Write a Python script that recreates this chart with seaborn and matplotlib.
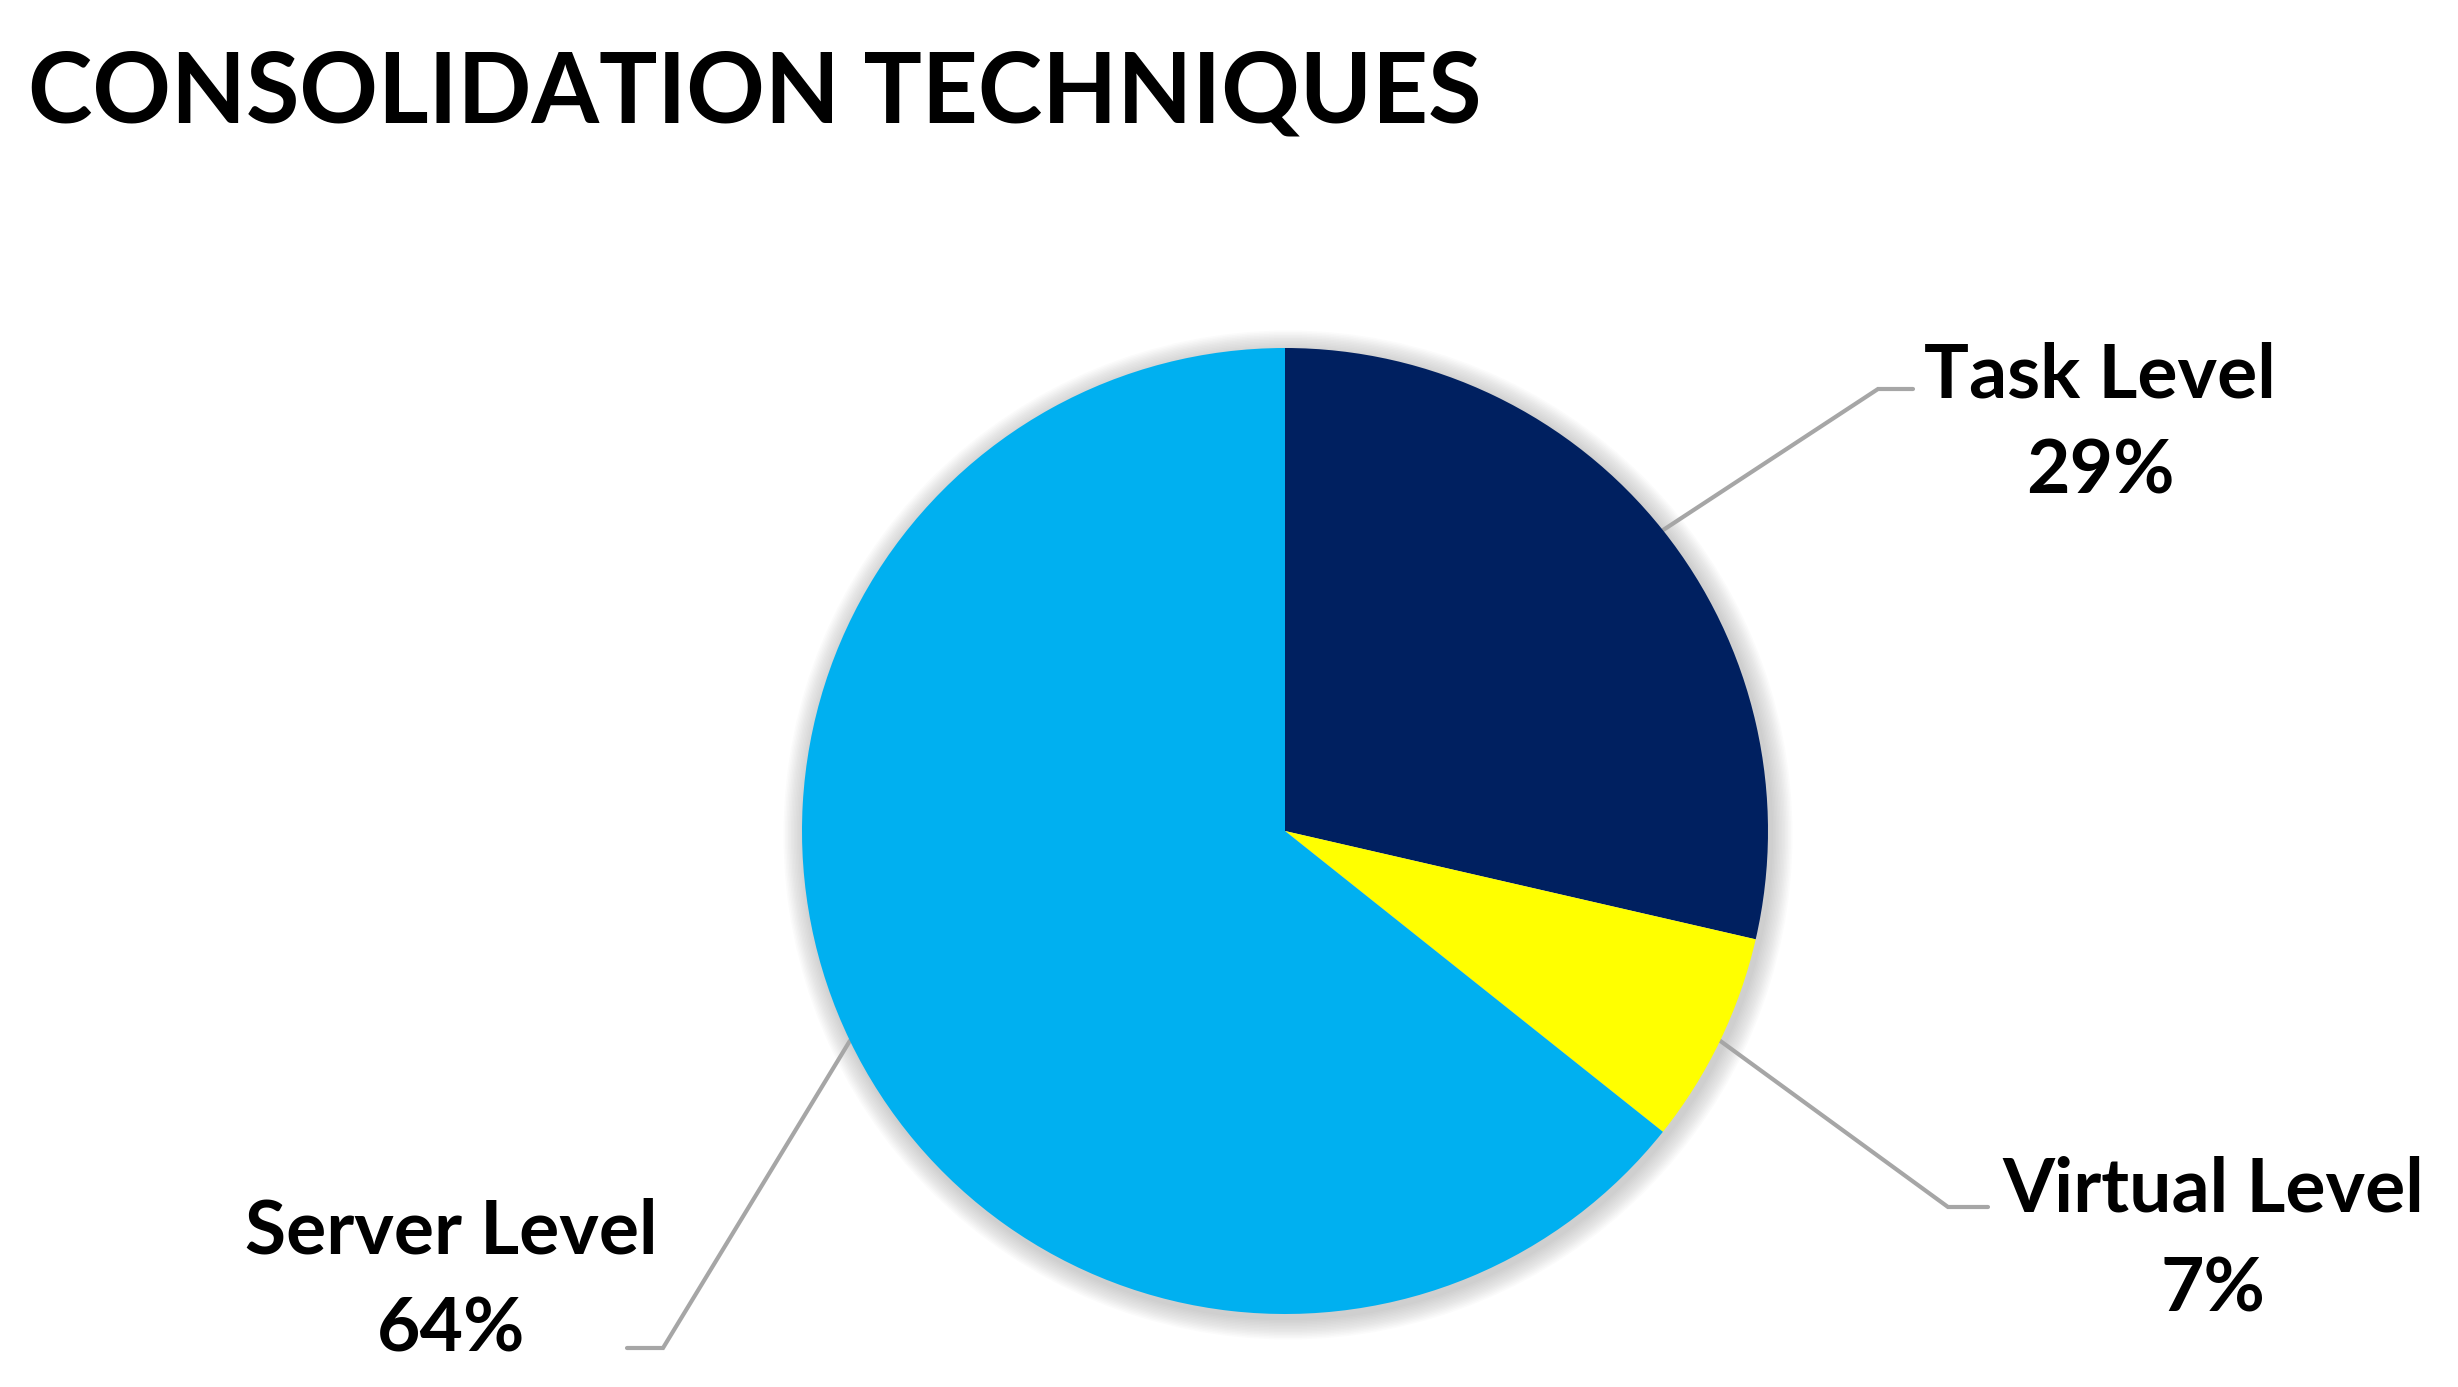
import numpy as np
import seaborn as sns
import matplotlib.pyplot as plt
from matplotlib.patches import Circle

# Data
categories = ['Task Level', 'Virtual Level', 'Server Level']
shares = [28.6, 7.1, 64.3]
pct_labels = ['29%', '7%', '64%']
colors = ['#002060', '#FFFF00', '#00B0F0']

sns.set_theme(style='white')
plt.rcParams['font.family'] = ['Lato', 'DejaVu Sans']

W, H = 2458, 1387
fig = plt.figure(figsize=(W / 100, H / 100), dpi=100)
ax = fig.add_axes([0, 0, 1, 1])

# pie geometry (pixel space, y up)
cx, cy, r = 1285, H - 831, 483

# soft shadow around the pie
for k in range(14):
    ax.add_patch(Circle((cx + 3, cy - 4), r + 2 + k * 1.5, color='#888888',
                        alpha=0.03, lw=0, zorder=0))

wedges, _ = ax.pie(shares, colors=colors, startangle=90, counterclock=False,
                   center=(cx, cy), radius=r, wedgeprops=dict(linewidth=0))
for w in wedges:
    w.set_zorder(2)

# label layout: elbow point, line end, text x, name baseline, pct baseline (pixels from top)
layout = [
    dict(elbow=(1878, 389), end=(1913, 389), tx=2100, yname=397, ypct=494),
    dict(elbow=(1948, 1207), end=(1988, 1207), tx=2213, yname=1212, ypct=1311),
    dict(elbow=(663, 1348), end=(627, 1348), tx=451, yname=1254, ypct=1351),
]

for w, name, pct, lay in zip(wedges, categories, pct_labels, layout):
    mid = np.deg2rad((w.theta1 + w.theta2) / 2)
    sx, sy = cx + r * np.cos(mid), cy + r * np.sin(mid)
    ex, ey = lay['elbow']
    fx, fy = lay['end']
    ax.plot([sx, ex, fx], [sy, H - ey, H - fy], color='#A6A6A6', lw=3,
            solid_joinstyle='miter', zorder=1)
    ax.text(lay['tx'], H - lay['yname'], name, ha='center', va='baseline',
            fontsize=54, fontweight='bold', color='black')
    ax.text(lay['tx'], H - lay['ypct'], pct, ha='center', va='baseline',
            fontsize=54, fontweight='bold', color='black')

ax.set_xlim(0, W)
ax.set_ylim(0, H)
ax.axis('off')

fig.text(28 / W, 1 - 122 / H, 'CONSOLIDATION TECHNIQUES', ha='left', va='baseline',
         fontsize=70, fontweight='bold', color='black')

fig.savefig('out.png', dpi=100, facecolor='white')
